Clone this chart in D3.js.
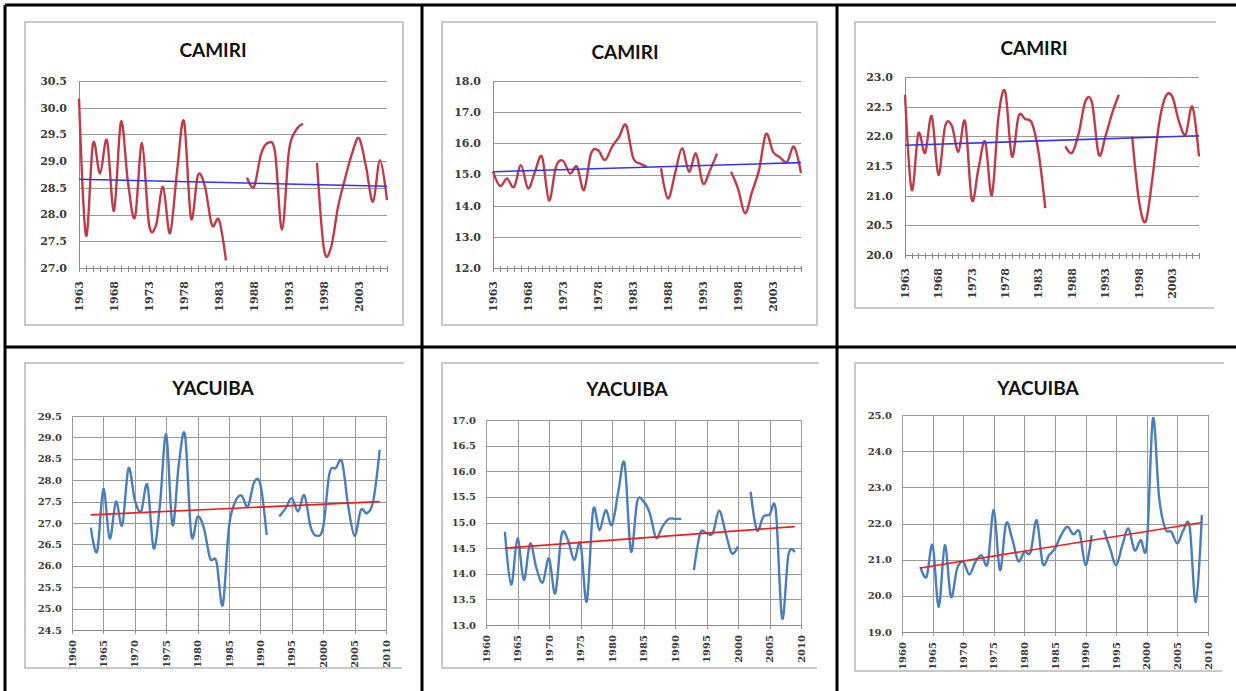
<!DOCTYPE html>
<html>
<head>
<meta charset="utf-8">
<script src="https://cdn.jsdelivr.net/npm/d3@7"></script>
<style>
body { margin: 0; background: #fff; }
svg { display: block; }
</style>
</head>
<body>
<div id="fig"></div>
<script>
// years on the category axis (top row) and on the xy axis (bottom row)
var yearsCamiri = [1963, 1964, 1965, 1966, 1967, 1968, 1969, 1970, 1971, 1972, 1973, 1974, 1975, 1976, 1977,
	1978, 1979, 1980, 1981, 1982, 1983, 1984, 1985, 1986, 1987, 1988, 1989, 1990, 1991, 1992, 1993, 1994,
	1995, 1996, 1997, 1998, 1999, 2000, 2001, 2002, 2003, 2004, 2005, 2006, 2007];
var yearsYacuiba = [1963, 1964, 1965, 1966, 1967, 1968, 1969, 1970, 1971, 1972, 1973, 1974, 1975, 1976, 1977,
	1978, 1979, 1980, 1981, 1982, 1983, 1984, 1985, 1986, 1987, 1988, 1989, 1990, 1991, 1992, 1993, 1994,
	1995, 1996, 1997, 1998, 1999, 2000, 2001, 2002, 2003, 2004, 2005, 2006, 2007, 2008, 2009];

// CAMIRI series (null = missing year)
var camiriMax = [30.17, 27.61, 29.33, 28.77, 29.39, 28.07, 29.74, 28.6, 27.95, 29.34, 27.82, 27.8, 28.52, 27.65,
	28.8, 29.75, 27.93, 28.74, 28.52, 27.8, 27.9, 27.14, null, null, 28.69, 28.52, 29.13, 29.34, 29.17, 27.72,
	29.2, 29.58, 29.7, null, 28.97, 27.35, 27.38, 28.14, 28.67, 29.14, 29.43, 28.9, 28.24, 29.02, 28.27];
var camiriMin = [15.09, 14.63, 14.87, 14.6, 15.3, 14.55, 15.09, 15.57, 14.17, 15.25, 15.44, 15.03, 15.25, 14.5,
	15.67, 15.78, 15.46, 15.89, 16.2, 16.59, 15.55, 15.35, 15.25, null, 15.2, 14.23, 15.03, 15.84, 15.09, 15.67,
	14.71, 15.14, 15.67, null, 15.09, 14.55, 13.75, 14.44, 15.14, 16.3, 15.73, 15.55, 15.4, 15.89, 15.05];
var camiriMean = [22.7, 21.1, 22.05, 21.72, 22.34, 21.35, 22.17, 22.18, 21.74, 22.25, 20.93, 21.46, 21.91, 21.01,
	22.34, 22.75, 21.66, 22.34, 22.29, 22.22, 21.72, 20.79, null, null, 21.83, 21.72, 22.05, 22.59, 22.56, 21.69,
	22.0, 22.39, 22.7, null, 22.0, 20.93, 20.56, 21.27, 22.2, 22.67, 22.67, 22.25, 22.03, 22.5, 21.66];

// YACUIBA series
var yacuibaMax = [26.89, 26.33, 27.79, 26.64, 27.5, 26.95, 28.28, 27.54, 27.27, 27.89, 26.41, 27.42, 29.07, 26.95,
	28.36, 29.05, 26.72, 27.15, 26.88, 26.17, 26.1, 25.08, 26.91, 27.5, 27.64, 27.38, 27.95, 27.9, 26.72, null,
	27.15, 27.34, 27.58, 27.27, 27.65, 26.91, 26.7, 26.91, 28.16, 28.28, 28.43, 27.38, 26.7, 27.3, 27.23, 27.54, 28.71];
var yacuibaMin = [14.82, 13.79, 14.69, 13.88, 14.59, 14.11, 13.83, 14.3, 13.62, 14.76, 14.66, 14.27, 14.59, 13.46,
	15.24, 14.85, 15.24, 14.95, 15.6, 16.15, 14.44, 15.41, 15.41, 15.18, 14.7, 14.92, 15.07, 15.07, 15.07, null,
	14.07, 14.79, 14.79, 14.79, 15.23, 14.82, 14.4, 14.53, null, 15.6, 14.85, 15.11, 15.15, 15.24, 13.13, 14.37, 14.42];
var yacuibaMean = [20.8, 20.52, 21.4, 19.69, 21.4, 19.97, 20.75, 20.94, 20.59, 20.94, 21.12, 20.89, 22.37, 20.71,
	22.0, 21.58, 20.96, 21.22, 21.2, 22.09, 20.89, 21.12, 21.31, 21.68, 21.91, 21.7, 21.77, 20.85, 21.68, null,
	21.82, 21.31, 20.85, 21.4, 21.86, 21.26, 21.54, 21.4, 24.9, 22.74, 21.86, 21.77, 21.45, 21.82, 21.91, 19.83, 22.23];

// linear trend, value at first and last year
var trendCamiriMax = [28.66, 28.53];
var trendCamiriMin = [15.09, 15.38];
var trendCamiriMean = [21.85, 22.01];
var trendYacuibaMax = [27.19, 27.5];
var trendYacuibaMin = [14.5, 14.92];
var trendYacuibaMean = [20.77, 22.03];

var titles = ["CAMIRI", "CAMIRI", "CAMIRI", "YACUIBA", "YACUIBA", "YACUIBA"];
var yDomains = [[27, 30.5], [12, 18], [20, 23], [24.5, 29.5], [13, 17], [19, 25]];
var ySteps = [0.5, 1, 0.5, 0.5, 0.5, 1];

var W = 1236, H = 691;
var svg = d3.select("#fig").append("svg").attr("width", W).attr("height", H);

// outer table lines
var table = svg.append("g").attr("stroke", "#000").attr("stroke-width", 3);
table.append("line").attr("x1", 5).attr("x2", W).attr("y1", 5).attr("y2", 5);
table.append("line").attr("x1", 5).attr("x2", 5).attr("y1", 5).attr("y2", H);
table.append("line").attr("x1", 5).attr("x2", W).attr("y1", 347).attr("y2", 347);
table.append("line").attr("x1", 422).attr("x2", 422).attr("y1", 5).attr("y2", H);
table.append("line").attr("x1", 837).attr("x2", 837).attr("y1", 5).attr("y2", H);

var panels = [
	{ years: yearsCamiri, values: camiriMax, trend: trendCamiriMax, kind: "cat", color: "#bf3b48", trendColor: "#3434ee",
		frame: [25, 22, 403, 325], right: true, px: [79, 387], py: [81, 268], tx: 213, ty: 50 },
	{ years: yearsCamiri, values: camiriMin, trend: trendCamiriMin, kind: "cat", color: "#bf3b48", trendColor: "#3434ee",
		frame: [442, 22, 817, 325], right: true, px: [493, 801], py: [81, 268], tx: 625, ty: 52 },
	{ years: yearsCamiri, values: camiriMean, trend: trendCamiriMean, kind: "cat", color: "#bf3b48", trendColor: "#3434ee",
		frame: [855, 22, 1214, 308], right: false, px: [905, 1199], py: [77, 255], tx: 1034, ty: 48 },
	{ years: yearsYacuiba, values: yacuibaMax, trend: trendYacuibaMax, kind: "xy", color: "#4a7dbb", trendColor: "#f21c1c",
		frame: [25, 363, 402, 668], right: false, px: [72, 386], py: [416, 630], tx: 213, ty: 388 },
	{ years: yearsYacuiba, values: yacuibaMin, trend: trendYacuibaMin, kind: "xy", color: "#4a7dbb", trendColor: "#f21c1c",
		frame: [442, 363, 817, 668], right: false, px: [486, 801], py: [420, 625], tx: 627, ty: 389 },
	{ years: yearsYacuiba, values: yacuibaMean, trend: trendYacuibaMean, kind: "xy", color: "#4a7dbb", trendColor: "#f21c1c",
		frame: [855, 363, 1222, 671], right: false, px: [902, 1208], py: [415, 632], tx: 1038, ty: 388 }
];

panels.forEach(function(p, i) {
	var g = svg.append("g");
	var f = p.frame;
	var fontSize = p.kind == "cat" ? 11 : 10;

	// chart frame (light grey, no right edge where the crop cut it)
	var fr = g.append("g").attr("stroke", "#c9c9c9").attr("stroke-width", 2).attr("fill", "none");
	fr.append("path").attr("d", "M" + (p.right ? f[2] : f[2] + 2) + "," + f[1] + "H" + f[0] + "V" + f[3] + "H" + f[2]
		+ (p.right ? "V" + f[1] : ""));

	var yDom = yDomains[i];
	var y = d3.scaleLinear().domain(yDom).range([p.py[1], p.py[0]]);
	var x;
	if (p.kind == "cat") x = d3.scaleLinear().domain([p.years[0], p.years[p.years.length - 1]]).range(p.px);
	else x = d3.scaleLinear().domain([1960, 2010]).range(p.px);

	// horizontal gridlines
	var yTicks = d3.range(yDom[0], yDom[1] + 1e-6, ySteps[i]);
	g.append("g").selectAll("line").data(yTicks).enter().append("line")
		.attr("x1", p.px[0]).attr("x2", p.px[1])
		.attr("y1", function(d) { return Math.round(y(d)) + 0.5; })
		.attr("y2", function(d) { return Math.round(y(d)) + 0.5; })
		.attr("stroke", "#9a9a9a").attr("stroke-width", 1);

	var labelFont = "'DejaVu Serif', serif";
	g.append("g").selectAll("text").data(yTicks).enter().append("text")
		.attr("x", p.px[0] - (p.kind == "cat" ? 12 : 10))
		.attr("y", function(d) { return y(d); })
		.attr("dy", "0.35em")
		.attr("text-anchor", "end")
		.attr("font-family", labelFont).attr("font-weight", "bold").attr("font-size", fontSize)
		.attr("fill", "#3a3a3a")
		.text(d3.format(".1f"));

	var xLabels, axisY = p.py[1];
	if (p.kind == "cat") {
		// minor tick for every year, label every 5 years
		g.append("g").selectAll("line").data(p.years).enter().append("line")
			.attr("x1", function(d) { return Math.round(x(d)) + 0.5; })
			.attr("x2", function(d) { return Math.round(x(d)) + 0.5; })
			.attr("y1", axisY - 2).attr("y2", axisY + 4)
			.attr("stroke", "#8a8a8a");
		xLabels = p.years.filter(function(d) { return (d - 1963) % 5 == 0; });
		g.append("line").attr("x1", p.px[0] + 0.5).attr("x2", p.px[0] + 0.5)
			.attr("y1", p.py[0]).attr("y2", axisY).attr("stroke", "#8a8a8a");
	} else {
		xLabels = d3.range(1960, 2011, 5);
		g.append("g").selectAll("line").data(xLabels).enter().append("line")
			.attr("x1", function(d) { return Math.round(x(d)) + 0.5; })
			.attr("x2", function(d) { return Math.round(x(d)) + 0.5; })
			.attr("y1", p.py[0]).attr("y2", axisY + 4)
			.attr("stroke", "#9a9a9a");
	}
	g.append("line").attr("x1", p.px[0]).attr("x2", p.px[1])
		.attr("y1", axisY + 0.5).attr("y2", axisY + 0.5).attr("stroke", "#8a8a8a");

	g.append("g").selectAll("text").data(xLabels).enter().append("text")
		.attr("transform", function(d) {
			return "translate(" + x(d) + "," + (axisY + (p.kind == "cat" ? 13 : 10)) + ")rotate(-90)";
		})
		.attr("dy", "0.35em")
		.attr("text-anchor", "end")
		.attr("font-family", labelFont).attr("font-weight", "bold").attr("font-size", fontSize)
		.attr("fill", "#3a3a3a")
		.text(function(d) { return d; });

	// title
	g.append("text").attr("x", p.tx).attr("y", p.ty).attr("dy", "0.35em")
		.attr("text-anchor", "middle")
		.attr("font-family", "Lato, 'Open Sans', sans-serif").attr("font-weight", "bold").attr("font-size", 19)
		.attr("fill", "#111")
		.text(titles[i]);

	// smoothed data line with gaps
	var pts = p.years.map(function(yr, k) { return { year: yr, v: p.values[k] }; });
	var line = d3.line()
		.defined(function(d) { return d.v !== null; })
		.x(function(d) { return x(d.year); })
		.y(function(d) { return y(d.v); })
		.curve(d3.curveCardinal.tension(0));
	g.append("path").datum(pts).attr("d", line)
		.attr("fill", "none").attr("stroke", p.color).attr("stroke-width", 2.4)
		.attr("stroke-linejoin", "round");

	// trend line
	var tr = [{ year: p.years[0], v: p.trend[0] }, { year: p.years[p.years.length - 1], v: p.trend[1] }];
	g.append("path").datum(tr).attr("d", d3.line().x(function(d) { return x(d.year); }).y(function(d) { return y(d.v); }))
		.attr("fill", "none").attr("stroke", p.trendColor).attr("stroke-width", 1.6);
});
</script>
</body>
</html>
